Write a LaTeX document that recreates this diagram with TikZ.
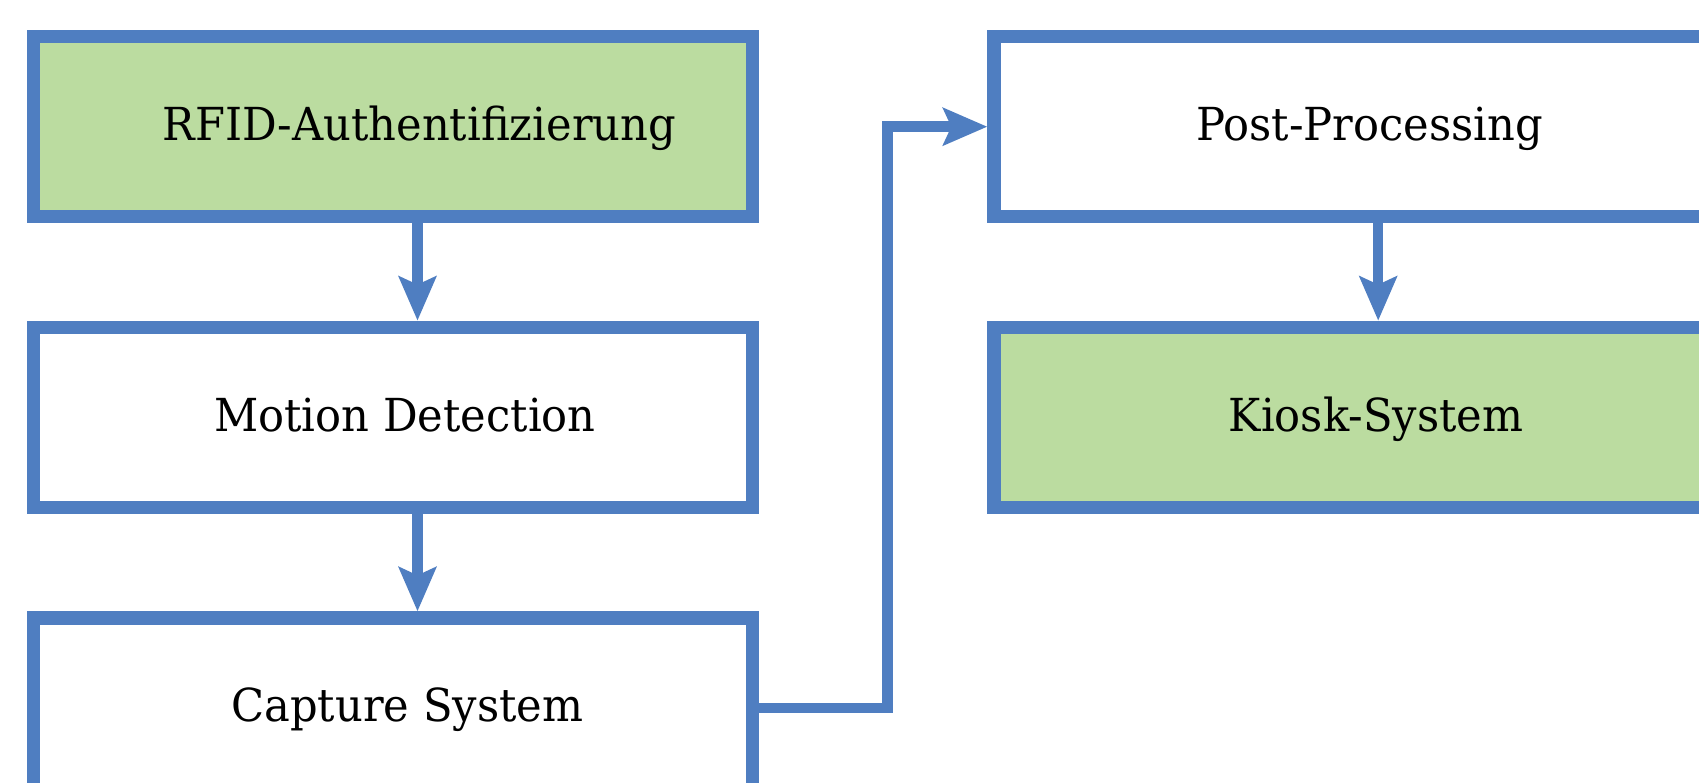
\documentclass[tikz,border=0pt]{standalone}
\usepackage{fontspec}
\setmainfont{DejaVu Serif}[FakeStretch=0.95]
\usetikzlibrary{arrows.meta}
\definecolor{bblue}{HTML}{4F7EC1}
\definecolor{lgreen}{HTML}{BBDCA0}
\begin{document}
\begin{tikzpicture}[x=1pt,y=-1pt,
  box/.style={draw=bblue, line width=13.3pt, minimum width=719pt, minimum height=180pt, inner sep=0pt},
  txt/.style={anchor=base, font=\fontsize{45.5}{54}\selectfont, inner sep=0pt},
  conn/.style={draw=bblue, line width=10.5pt, line join=miter, -{Stealth[length=44pt,width=37pt,inset=8pt]}}]
\useasboundingbox (0,0) rectangle (1699,782);
\node[box, fill=lgreen] (rfid) at (392.8,126.7) {};
\node[box, fill=white] (motion) at (392.8,417.3) {};
\node[box, fill=white] (capture) at (392.8,708) {};
\node[box, fill=white] (post) at (1353.5,126.7) {};
\node[box, fill=lgreen] (kiosk) at (1353.5,417.3) {};
\node[txt] (trfid) at (419.3,140.4) {RFID-Authentifizierung};
\node[txt] (tmotion) at (405,431.2) {Motion Detection};
\node[txt] (tcapture) at (407.4,721.8) {Capture System};
\node[txt] (tpost) at (1369.5,140.4) {Post-Processing};
\node[txt] (tkiosk) at (1376,431.2) {Kiosk-System};
\coordinate (elbow) at (887.5,0);
\draw[conn] ([xshift=24.7pt]rfid.south) -- ([xshift=24.7pt]motion.north);
\draw[conn] ([xshift=24.7pt]motion.south) -- ([xshift=24.7pt]capture.north);
\draw[conn] ([xshift=24.7pt]post.south) -- ([xshift=24.7pt]kiosk.north);
\draw[conn] (capture.east) -- (capture.east -| elbow) |- (post.west);
\end{tikzpicture}
\end{document}
